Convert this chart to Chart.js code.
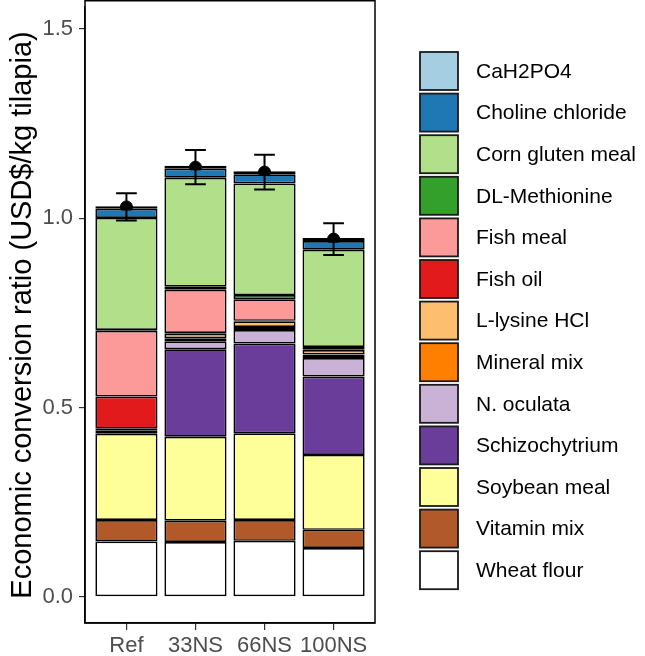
<!DOCTYPE html>
<html><head><meta charset="utf-8">
<script src="https://cdn.jsdelivr.net/npm/chart.js@4.4.0/dist/chart.umd.min.js"></script>
<style>html,body{margin:0;padding:0;background:#fff}#wrap{width:645px;height:656px;position:relative}</style>
</head><body><div id="wrap"><canvas id="c" width="645" height="656"></canvas></div>
<script>
// ---- data ----
const categories = ['Ref', '33NS', '66NS', '100NS'];
const yTickValues = [0, 0.5, 1.0, 1.5];
// stacked from bottom to top
const wheatFlour      = [0.146, 0.145, 0.148, 0.129];
const vitaminMix      = [0.057, 0.056, 0.055, 0.048];
const soybeanMeal     = [0.228, 0.222, 0.229, 0.198];
const schizochytrium  = [0.000, 0.231, 0.237, 0.207];
const nOculata        = [0.000, 0.021, 0.036, 0.049];
const mineralMix      = [0.009, 0.008, 0.008, 0.009];
const lLysineHCl      = [0.004, 0.012, 0.015, 0.012];
const fishOil         = [0.085, 0.002, 0.001, 0.000];
const fishMeal        = [0.174, 0.114, 0.057, 0.001];
const dlMethionine    = [0.002, 0.008, 0.011, 0.007];
const cornGlutenMeal  = [0.296, 0.288, 0.295, 0.257];
const cholineChloride = [0.024, 0.024, 0.024, 0.023];
const caH2PO4         = [0.007, 0.008, 0.008, 0.008];
const meanECR = [1.030, 1.135, 1.122, 0.945];
const errECR  = [0.036, 0.045, 0.046, 0.042];

const ingredients = [
  ['Wheat flour', wheatFlour, '#FFFFFF'],
  ['Vitamin mix', vitaminMix, '#B15928'],
  ['Soybean meal', soybeanMeal, '#FFFF99'],
  ['Schizochytrium', schizochytrium, '#6A3D9A'],
  ['N. oculata', nOculata, '#CAB2D6'],
  ['Mineral mix', mineralMix, '#FF7F00'],
  ['L-lysine HCl', lLysineHCl, '#FDBF6F'],
  ['Fish oil', fishOil, '#E31A1C'],
  ['Fish meal', fishMeal, '#FB9A99'],
  ['DL-Methionine', dlMethionine, '#33A02C'],
  ['Corn gluten meal', cornGlutenMeal, '#B2DF8A'],
  ['Choline chloride', cholineChloride, '#1F78B4'],
  ['CaH2PO4', caH2PO4, '#A6CEE3']
];

const FONT = "'Liberation Sans', Arial, sans-serif";

const datasets = ingredients.map(([name, vals, col]) => ({
  type: 'bar',
  label: name,
  data: vals.map((v, i) => ({x: i, y: v})),
  backgroundColor: col,
  borderColor: '#000',
  borderWidth: 1.7,
  borderSkipped: false,
  stack: 'bars',
  categoryPercentage: 0.9,
  barPercentage: 1.0
}));
datasets.push({
  type: 'line',
  label: '_mean',
  data: meanECR.map((v, i) => ({x: i, y: v})),
  showLine: false,
  pointRadius: 6,
  pointBackgroundColor: '#000',
  pointBorderColor: '#000',
  stack: 'pts'
});

const errPlugin = {
  id: 'errbars',
  afterDatasetsDraw(chart) {
    const {ctx, scales: {x, y}} = chart;
    ctx.save();
    ctx.strokeStyle = '#000';
    ctx.lineWidth = 2;
    meanECR.forEach((m, i) => {
      const cx = x.getPixelForValue(i);
      const hw = Math.abs(x.getPixelForValue(i + 0.15) - cx);
      const yt = y.getPixelForValue(m + errECR[i]);
      const yb = y.getPixelForValue(m - errECR[i]);
      ctx.beginPath();
      ctx.moveTo(cx, yt); ctx.lineTo(cx, yb);
      ctx.moveTo(cx - hw, yt); ctx.lineTo(cx + hw, yt);
      ctx.moveTo(cx - hw, yb); ctx.lineTo(cx + hw, yb);
      ctx.stroke();
    });
    ctx.restore();
  },
  afterDraw(chart) {
    const {ctx, chartArea: a} = chart;
    ctx.save();
    ctx.strokeStyle = '#000';
    ctx.lineWidth = 1.5;
    // panel frame (runs to the top edge of the picture, as in the reference)
    ctx.strokeRect(a.left, 0.75, a.right - a.left, a.bottom - 0.75);
    // legend
    const items = chart.data.datasets.filter(d => d.type === 'bar').slice().reverse();
    const keyX = 420, keyS = 38, pitch = 41.6, firstC = 71;
    ctx.font = '21px ' + FONT;
    ctx.textBaseline = 'middle';
    ctx.textAlign = 'left';
    items.forEach((d, k) => {
      const cy = firstC + k * pitch;
      ctx.fillStyle = d.backgroundColor;
      ctx.fillRect(keyX, cy - keyS / 2, keyS, keyS);
      ctx.lineWidth = 1.8;
      ctx.strokeStyle = '#1a1a1a';
      ctx.strokeRect(keyX, cy - keyS / 2, keyS, keyS);
      ctx.fillStyle = '#000';
      ctx.fillText(d.label, 476, cy + 1);
    });
    ctx.restore();
  }
};

new Chart(document.getElementById('c'), {
  data: {datasets},
  options: {
    responsive: false,
    animation: false,
    devicePixelRatio: 1,
    layout: {padding: {left: 0, right: 270, top: 0, bottom: 0}},
    plugins: {legend: {display: false}, tooltip: {enabled: false}},
    scales: {
      x: {
        type: 'linear', stacked: true, min: -0.6, max: 3.6, offset: false,
        afterBuildTicks: s => { s.ticks = categories.map((c, i) => ({value: i})); },
        afterFit: s => { s.paddingLeft = 0; s.paddingRight = 0; s.height = 33; },
        ticks: {
          callback: v => categories[v],
          font: {family: FONT, size: 22, lineHeight: 1},
          color: '#4D4D4D', padding: 5, autoSkip: false, maxRotation: 0
        },
        grid: {display: true, offset: false, drawOnChartArea: false, drawTicks: true, tickLength: 7, color: '#333', lineWidth: 1.2},
        border: {display: true, color: '#000', width: 1.5}
      },
      y: {
        type: 'linear', stacked: true, min: -0.069, max: 1.558,
        afterBuildTicks: s => { s.ticks = yTickValues.map(v => ({value: v})); },
        afterFit: s => { s.width = 85; s.paddingTop = 0; s.paddingBottom = 0; },
        ticks: {
          callback: v => Number(v).toFixed(1),
          font: {family: FONT, size: 22}, color: '#4D4D4D', padding: 6
        },
        grid: {display: true, drawOnChartArea: false, drawTicks: true, tickLength: 6, color: '#333', lineWidth: 1.2},
        border: {display: true, color: '#000', width: 1.5},
        title: {
          display: true, text: 'Economic conversion ratio (USD$/kg tilapia)',
          font: {family: FONT, size: 29}, color: '#000', padding: {top: 6, bottom: 0}
        }
      }
    }
  },
  plugins: [errPlugin]
});
</script>
</body></html>
